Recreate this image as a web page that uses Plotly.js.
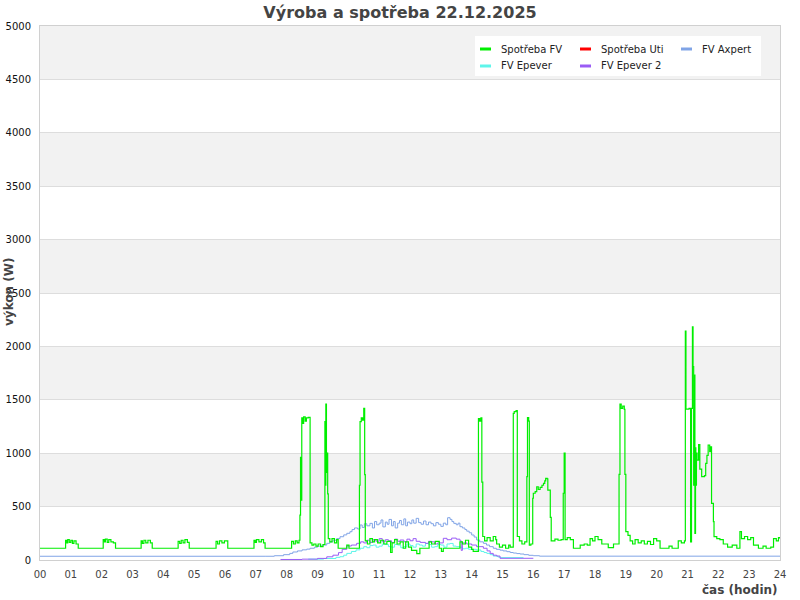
<!DOCTYPE html>
<html><head><meta charset="utf-8">
<script src="https://cdn.plot.ly/plotly-3.0.1.min.js"></script>
<style>html,body{margin:0;padding:0;background:#fff}#chart{width:800px;height:600px}</style>
</head><body><div id="chart"></div>
<script>
// time in decimal hours, power in W
const hourTicks = [0,1,2,3,4,5,6,7,8,9,10,11,12,13,14,15,16,17,18,19,20,21,22,23,24];
const hourLabels = ['00','01','02','03','04','05','06','07','08','09','10','11','12','13','14','15','16','17','18','19','20','21','22','23','24'];
const seriesNames = ['Spotřeba FV','Spotřeba Uti','FV Axpert','FV Epever','FV Epever 2'];

const spotrebaFV = [
[0,110],[0.83,185],[0.87,160],[0.9,190],[0.95,165],[1,185],[1.05,155],[1.1,180],[1.17,150],[1.24,110],
[2.05,190],[2.09,170],[2.12,195],[2.18,165],[2.23,190],[2.3,170],[2.38,160],[2.45,110],
[3.28,180],[3.32,155],[3.37,185],[3.43,160],[3.5,185],[3.58,160],[3.64,110],
[4.48,175],[4.53,155],[4.58,185],[4.64,160],[4.7,190],[4.78,165],[4.84,110],
[5.71,175],[5.76,150],[5.82,180],[5.9,160],[5.98,180],[6.09,110],
[6.94,185],[6.98,165],[7.02,190],[7.1,170],[7.18,190],[7.25,160],[7.3,110],
[8.16,175],[8.22,150],[8.28,180],[8.34,160],[8.4,185],[8.43,420],[8.45,960],[8.47,560],[8.49,1330],[8.52,1280],[8.55,1340],[8.6,1300],[8.64,1330],[8.7,1335],
[8.76,160],[8.82,140],[8.88,150],[8.95,130],[9.02,150],[9.1,125],[9.18,145],
[9.24,1295],[9.26,700],[9.27,1460],[9.29,820],[9.31,1000],[9.33,620],[9.35,200],[9.4,170],[9.47,200],[9.55,160],[9.62,190],[9.67,110],
[9.95,140],[10.02,110],[10.36,700],[10.38,1295],[10.42,1330],[10.46,1310],[10.5,1420],[10.53,800],
[10.55,180],[10.62,150],[10.7,200],[10.78,170],[10.85,190],[10.95,160],[11.05,185],[11.15,150],[11.25,175],[11.37,70],[11.42,160],[11.5,190],[11.58,150],[11.68,170],[11.78,110],[11.86,170],[11.95,120],
[12.05,90],[12.22,60],[12.32,110],[12.62,170],[12.7,150],[12.82,175],[12.95,110],[13.02,80],[13.08,110],[13.62,170],[13.7,150],[13.8,185],[13.9,120],[14,100],[14.05,80],
[14.22,1325],[14.26,1300],[14.3,1330],[14.33,730],[14.36,220],[14.42,180],[14.5,210],[14.6,180],[14.7,220],[14.78,190],[14.81,150],[14.9,120],[15,140],[15.1,110],[15.2,140],[15.25,120],
[15.35,1373],[15.38,1390],[15.44,1400],[15.48,220],[15.55,180],[15.63,150],[15.72,170],[15.79,780],[15.81,1333],[15.85,1300],[15.87,140],[15.92,150],
[15.98,578],[16,625],[16.06,640],[16.11,686],[16.16,660],[16.22,680],[16.28,700],[16.33,718],[16.37,740],[16.4,765],[16.45,760],[16.47,655],[16.55,400],[16.58,180],
[16.7,195],[16.8,185],[16.9,190],[16.97,625],[17,1000],[17.03,190],[17.1,210],[17.2,190],[17.3,110],[17.52,140],[17.65,150],[17.75,140],[17.84,200],[17.92,180],[18,220],[18.1,190],[18.22,150],[18.43,115],[18.6,150],
[18.78,802],[18.81,1460],[18.85,1420],[18.9,1440],[18.95,1410],[18.97,802],[19,265],[19.07,230],[19.14,180],[19.22,150],[19.3,190],[19.4,160],[19.5,180],[19.6,150],[19.7,175],[19.8,145],[19.9,200],[20,180],[20.11,110],[20.4,130],[20.5,110],
[20.7,180],[20.8,160],[20.9,180],[20.93,2144],[20.95,1413],[21.05,1420],[21.1,170],[21.13,1420],[21.16,2182],[21.18,1810],[21.2,700],[21.21,1500],[21.22,900],[21.23,1732],[21.24,250],[21.26,1050],[21.27,700],[21.29,1000],[21.31,935],[21.36,1080],[21.4,850],
[21.46,780],[21.55,790],[21.59,905],[21.63,980],[21.67,1077],[21.72,1014],[21.75,1060],[21.78,530],[21.84,360],[21.86,218],[21.95,200],[22.05,190],[22.16,150],[22.3,120],[22.45,140],[22.6,110],
[22.7,265],[22.75,200],[22.85,220],[22.95,190],[23.05,210],[23.14,140],[23.3,110],[23.45,130],[23.55,110],[23.7,120],[23.79,200],[23.88,180],[23.95,210],[24,200]
];

const spotrebaUti = [];

const fvAxpert = [
[0,35],[7.3,35],[7.6,40],[7.9,50],[8.1,62],[8.2,75],[8.35,85],[8.5,95],[8.65,102],[8.76,110],[8.9,120],[9,130],[9.15,140],[9.3,156],[9.4,170],[9.5,185],[9.62,200],[9.73,218],[9.85,235],[9.95,250],
[10.05,265],[10.12,285],[10.2,300],[10.3,290],[10.38,328],[10.45,305],[10.52,340],[10.6,320],[10.7,343],[10.78,300],[10.85,360],[10.92,330],[11,345],[11.06,375],[11.12,310],[11.2,355],[11.26,335],[11.32,380],[11.4,320],[11.46,360],[11.52,300],[11.6,345],[11.66,370],[11.72,330],[11.8,385],[11.86,320],[11.92,355],
[12,340],[12.06,375],[12.12,345],[12.2,390],[12.28,350],[12.36,335],[12.44,365],[12.52,330],[12.6,355],[12.68,340],[12.76,320],[12.84,350],[12.92,335],[13,315],[13.08,345],[13.16,330],[13.22,396],[13.3,380],[13.36,360],[13.42,343],[13.5,330],[13.56,345],[13.62,312],[13.7,300],[13.78,285],[13.84,270],[13.92,255],
[14,234],[14.08,215],[14.16,187],[14.26,170],[14.38,156],[14.48,140],[14.58,125],[14.7,110],[14.8,100],[14.92,92],[15.02,85],[15.14,78],[15.25,70],[15.35,65],[15.46,60],[15.57,56],[15.7,50],[15.85,44],[16,40],[16.2,36],[24,35]
];

const fvEpever = [
[8.7,8],[9.2,14],[9.6,25],[9.73,31],[9.85,45],[9.95,62],[10.1,80],[10.25,95],[10.38,110],[10.5,125],[10.6,115],[10.7,135],[10.8,140],[10.9,120],[11,130],[11.1,150],[11.2,145],[11.3,125],[11.4,120],[11.5,145],[11.6,140],[11.7,115],[11.8,125],[11.9,150],
[12,135],[12.1,120],[12.2,150],[12.3,140],[12.4,130],[12.5,155],[12.6,145],[12.7,120],[12.8,125],[12.9,145],[13,140],[13.1,120],[13.2,150],[13.3,155],[13.4,130],[13.5,125],[13.62,120],[13.7,105],[13.8,110],[13.9,100],[14.05,100],[14.16,94],[14.3,80],[14.4,70],[14.49,62],[14.6,50],[14.7,37],[14.85,28],[14.92,22],[15.68,22]
];

const fvEpever2 = [
[7.8,5],[8.5,8],[9,15],[9.3,30],[9.5,45],[9.68,69],[9.8,100],[9.95,131],[10.1,140],[10.27,156],[10.4,170],[10.5,160],[10.6,185],[10.7,165],[10.8,190],[10.9,175],[11,200],[11.1,170],[11.2,190],[11.3,180],[11.4,165],[11.5,195],[11.6,175],[11.68,187],[11.8,171],[11.9,195],
[12,180],[12.1,200],[12.2,175],[12.33,165],[12.5,156],[12.6,175],[12.7,170],[12.8,150],[12.9,160],[13.08,203],[13.2,190],[13.35,205],[13.5,195],[13.62,180],[13.66,90],[13.7,160],[13.84,150],[14,140],[14.16,125],[14.38,110],[14.5,85],[14.6,62],[14.7,45],[14.81,37],[14.92,16],[16,16]
];

const seriesColors = {'Spotřeba FV':'#00ee00','Spotřeba Uti':'#ff0000','FV Axpert':'#80a4e6','FV Epever':'#5ef5ea','FV Epever 2':'#9a5cf5'};
const seriesData = {'Spotřeba FV':spotrebaFV,'Spotřeba Uti':spotrebaUti,'FV Axpert':fvAxpert,'FV Epever':fvEpever,'FV Epever 2':fvEpever2};
const drawOrder = ['FV Axpert','FV Epever','FV Epever 2','Spotřeba Uti','Spotřeba FV'];

const traces = drawOrder.map(name => {
  const pts = seriesData[name];
  return {
    type:'scatter', mode:'lines', name:name, showlegend:false,
    x: pts.map(p=>p[0]), y: pts.map(p=>p[1]),
    line:{color:seriesColors[name], width: name==='Spotřeba FV' ? 1.2 : 1, shape:'hv'}
  };
});

// pixel helpers for layout placement (plot area: x 40..780, y 26..560)
const px = v => (v - 40) / 740;
const py = v => (560 - v) / 534;

const F = 'DejaVu Sans, sans-serif';
const shapes = [];
for (let v = 500; v < 5000; v += 1000) {
  shapes.push({type:'rect', layer:'below', xref:'paper', x0:0, x1:1, yref:'y', y0:v, y1:v+500, fillcolor:'#f2f2f2', line:{width:0}});
}
// legend box
shapes.push({type:'rect', layer:'above', xref:'paper', yref:'paper', x0:px(475), x1:px(761), y0:py(76), y1:py(36), fillcolor:'#ffffff', line:{width:0}});

const annotations = [
  {text:'výkon (W)', textangle:-90, xref:'paper', x:px(9), xanchor:'center', yref:'paper', y:py(292), yanchor:'middle', showarrow:false, font:{family:F, size:12, color:'#444', weight:'bold'}},
  {text:'čas (hodin)', xref:'paper', x:1, xanchor:'right', yref:'paper', y:py(590), yanchor:'middle', showarrow:false, font:{family:F, size:12, color:'#444', weight:'bold'}}
];

// legend: key line + label, laid out in 3 columns / 2 rows
const legendCols = [480, 580, 681];
const legendRows = [49, 66];
seriesNames.forEach((name, i) => {
  const cx = legendCols[i % 3], cy = legendRows[Math.floor(i / 3)];
  shapes.push({type:'line', layer:'above', xref:'paper', yref:'paper', x0:px(cx), x1:px(cx+11), y0:py(cy), y1:py(cy), line:{color:seriesColors[name], width:3}});
  annotations.push({text:name, xref:'paper', yref:'paper', x:px(cx+20), y:py(cy), xanchor:'left', yanchor:'middle', showarrow:false, borderpad:0, font:{family:F, size:10, color:'#222'}});
});

const layout = {
  width:800, height:600,
  margin:{l:40, r:20, t:26, b:40},
  paper_bgcolor:'#ffffff', plot_bgcolor:'#ffffff',
  font:{family:F, size:10, color:'#222'},
  title:{text:'Výroba a spotřeba 22.12.2025', font:{family:F, size:16, color:'#444', weight:'bold'}, xref:'container', x:0.5, xanchor:'center', yref:'container', y:1-12/600, yanchor:'middle'},
  xaxis:{range:[0,24], tickvals:hourTicks, ticktext:hourLabels, showgrid:false, zeroline:false, showline:true, linecolor:'#d0d0d0', mirror:true, ticks:'outside', ticklen:5, tickcolor:'rgba(0,0,0,0)', tickfont:{size:10, color:'#444'}},
  yaxis:{range:[0,5000], dtick:500, tick0:0, gridcolor:'#dddddd', zeroline:false, showline:true, linecolor:'#d0d0d0', mirror:true, ticks:'outside', ticklen:6, tickcolor:'rgba(0,0,0,0)', tickfont:{size:10, color:'#111'}},
  shapes: shapes,
  annotations: annotations,
  showlegend:false
};

Plotly.newPlot('chart', traces, layout, {displayModeBar:false, staticPlot:true});
</script></body></html>
